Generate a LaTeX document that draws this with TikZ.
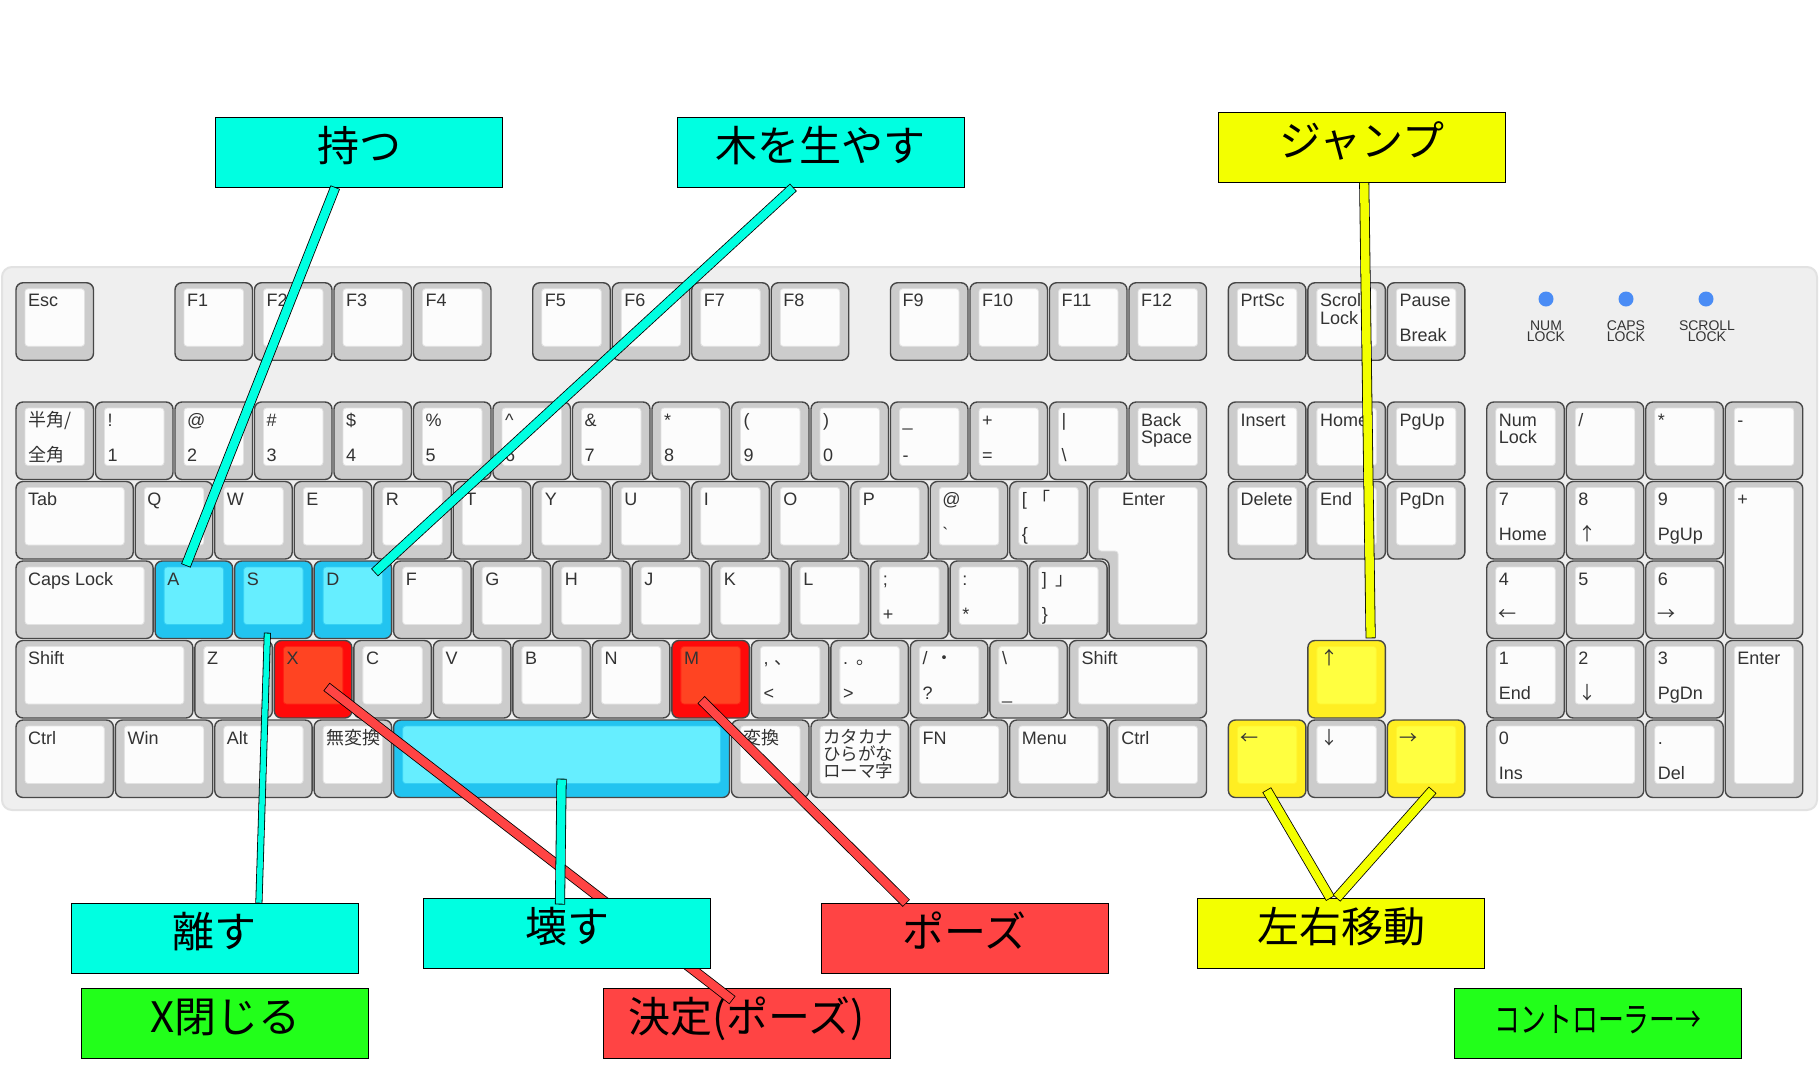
\documentclass[tikz,border=0pt]{standalone}
\usepackage{fontspec}
\usepackage{graphicx}
\setmainfont{Liberation Sans}
\newfontfamily\jpfont{Noto Sans CJK JP}
\usetikzlibrary{calc,positioning}
\definecolor{KeyEdge}{HTML}{474747}
\definecolor{KeySide}{HTML}{CCCCCC}
\definecolor{KeyTop}{HTML}{FCFCFC}
\definecolor{KeyRim}{HTML}{E2E2E2}
\definecolor{KeyText}{HTML}{333333}
\definecolor{BoardFill}{HTML}{EFEFEF}
\definecolor{BoardEdge}{HTML}{E2E2E2}
\definecolor{BlueSide}{HTML}{22C4F0}
\definecolor{BlueTop}{HTML}{66EEFF}
\definecolor{RedSide}{HTML}{FF0A0A}
\definecolor{RedTop}{HTML}{FF4422}
\definecolor{YelSide}{HTML}{FFEE22}
\definecolor{YelTop}{HTML}{FFFF40}
\definecolor{LedBlue}{HTML}{4A8CF5}
\definecolor{TagCyan}{HTML}{00FFE1}
\definecolor{TagRed}{HTML}{FF4444}
\definecolor{TagYellow}{HTML}{F3FF00}
\definecolor{TagGreen}{HTML}{22FF1A}

\tikzset{
  kcap/.style={draw=KeyEdge,line width=1.4pt,rounded corners=7pt,inner sep=0pt,outer sep=0pt},
  kface/.style={draw=#1,line width=0.8pt,rounded corners=3pt,inner sep=0pt,outer sep=0pt},
  plaincap/.style={kcap,fill=KeySide}, plainface/.style={kface=KeyRim,fill=KeyTop},
  bluecap/.style={kcap,fill=BlueSide}, blueface/.style={kface=BlueSide!70!BlueTop,fill=BlueTop},
  redcap/.style={kcap,fill=RedSide}, redface/.style={kface=RedSide!60!RedTop,fill=RedTop},
  yelcap/.style={kcap,fill=YelSide}, yelface/.style={kface=YelSide!60!YelTop,fill=YelTop},
  keytext/.style={anchor=base west,inner sep=0pt,text=KeyText,font=\fontsize{18}{18}\selectfont},
  ledtext/.style={align=center,inner sep=0pt,text=KeyText,font=\fontsize{14}{11}\selectfont},
  tag/.style={draw=black,line width=1.2pt,minimum width=287pt,minimum height=70pt,inner sep=0pt,
    text height=30pt,text depth=12pt,font=\jpfont\fontsize{42}{42}\selectfont},
  band/.style={draw=#1,line width=8.5pt,preaction={draw=black,line width=10.1pt,shorten <=-0.8pt,shorten >=-0.8pt}},
  thinband/.style={draw=#1,line width=5.5pt,preaction={draw=black,line width=7.1pt,shorten <=-0.8pt,shorten >=-0.8pt}},
}

% key: [look]{name}{column}{row}{width}{height}{upper label}{lower label}
\newcommand\kbkey[8][plain]{%
  \node[#1cap,anchor=north west,minimum width={(#5)*79.5pt-2pt},minimum height={(#6)*79.5pt-2pt}]
    (#2) at ({16+(#3)*79.5},{402+(#4)*79.5}) {};
  \node[#1face,anchor=north west,minimum width={(#5)*79.5pt-20pt},minimum height={(#6)*79.5pt-22pt}]
    (#2f) at ($(#2.north west)+(9,6)$) {};
  \node[keytext] (#2t) at ($(#2.north west)+(12,24)$) {#7};
  \node[keytext] (#2b) at ($(#2.north west)+(12,59)$) {#8};
}

\begin{document}
\begin{tikzpicture}[x=1pt,y=-1pt]
  \useasboundingbox (0,0) rectangle (1820,1080);
  \fill[white] (0,0) rectangle (1820,1080);
  \draw[fill=BoardFill,draw=BoardEdge,line width=2pt,rounded corners=10pt] (2,267) rectangle (1817,810);

  \kbkey{kEsc}{0}{-1.5}{1}{1}{Esc}{}
  \foreach \n in {1,...,4} {\kbkey{kF\n}{\n+1}{-1.5}{1}{1}{F\n}{}}
  \foreach \n in {5,...,8} {\kbkey{kF\n}{\n+1.5}{-1.5}{1}{1}{F\n}{}}
  \foreach \n in {9,...,12} {\kbkey{kF\n}{\n+2}{-1.5}{1}{1}{F\n}{}}
  \kbkey{kPrt}{15.25}{-1.5}{1}{1}{PrtSc}{}
  \kbkey{kScr}{16.25}{-1.5}{1}{1}{Scroll}{}
  \node[keytext] (kScrL) at ($(kScr.north west)+(12,41.5)$) {Lock};
  \kbkey{kPau}{17.25}{-1.5}{1}{1}{Pause}{Break}

  \fill[LedBlue] (1546,299) circle (7.5pt);
  \fill[LedBlue] (1626,299) circle (7.5pt);
  \fill[LedBlue] (1706,299) circle (7.5pt);
  \node[ledtext] (ledNum) at (1546,331) {NUM\\LOCK};
  \node[ledtext] (ledCaps) at (1626,331) {CAPS\\LOCK};
  \node[ledtext] (ledScr) at (1707,331) {SCROLL\\LOCK};

  \kbkey{kHan}{0}{0}{1}{1}{\jpfont 半角/}{\jpfont 全角}
  \kbkey{k1}{1}{0}{1}{1}{!}{1}
  \kbkey{k2}{2}{0}{1}{1}{@}{2}
  \kbkey{k3}{3}{0}{1}{1}{\#}{3}
  \kbkey{k4}{4}{0}{1}{1}{\$}{4}
  \kbkey{k5}{5}{0}{1}{1}{\%}{5}
  \kbkey{k6}{6}{0}{1}{1}{\textasciicircum}{6}
  \kbkey{k7}{7}{0}{1}{1}{\&}{7}
  \kbkey{k8}{8}{0}{1}{1}{*}{8}
  \kbkey{k9}{9}{0}{1}{1}{(}{9}
  \kbkey{k0}{10}{0}{1}{1}{)}{0}
  \kbkey{kMinus}{11}{0}{1}{1}{\_}{-}
  \kbkey{kEq}{12}{0}{1}{1}{+}{=}
  \kbkey{kYen}{13}{0}{1}{1}{|}{\textbackslash}
  \kbkey{kBack}{14}{0}{1}{1}{Back}{}
  \node[keytext] (kBackS) at ($(kBack.north west)+(12,41.5)$) {Space};
  \kbkey{kIns}{15.25}{0}{1}{1}{Insert}{}
  \kbkey{kHome}{16.25}{0}{1}{1}{Home}{}
  \kbkey{kPgUp}{17.25}{0}{1}{1}{PgUp}{}
  \kbkey{kNum}{18.5}{0}{1}{1}{Num}{}
  \node[keytext] (kNumL) at ($(kNum.north west)+(12,41.5)$) {Lock};
  \kbkey{kDiv}{19.5}{0}{1}{1}{/}{}
  \kbkey{kMul}{20.5}{0}{1}{1}{*}{}
  \kbkey{kSub}{21.5}{0}{1}{1}{-}{}

  \kbkey{kTab}{0}{1}{1.5}{1}{Tab}{}
  \foreach \lbl [count=\i from 0] in {Q,W,E,R,T,Y,U,I,O,P} {\kbkey{k\lbl}{1.5+\i}{1}{1}{1}{\lbl}{}}
  \kbkey{kAt}{11.5}{1}{1}{1}{@}{\textasciigrave}
  \kbkey{kLbr}{12.5}{1}{1}{1}{[\hspace{6pt}{\jpfont 「}}{\{}
  \draw[plaincap] (1089.25,481.5) -- (1206.5,481.5) -- (1206.5,638.5) -- (1109.1,638.5)
    -- (1109.1,559) -- (1089.25,559) -- cycle;
  \draw[plainface] (1098.25,487.5) -- (1197.5,487.5) -- (1197.5,624.5) -- (1118.1,624.5)
    -- (1118.1,551) -- (1098.25,551) -- cycle;
  \node[keytext] (kEntT) at (1122,505.5) {Enter};
  \kbkey{kDel}{15.25}{1}{1}{1}{Delete}{}
  \kbkey{kEnd}{16.25}{1}{1}{1}{End}{}
  \kbkey{kPgDn}{17.25}{1}{1}{1}{PgDn}{}
  \kbkey{kN7}{18.5}{1}{1}{1}{7}{Home}
  \kbkey{kN8}{19.5}{1}{1}{1}{8}{\jpfont ↑}
  \kbkey{kN9}{20.5}{1}{1}{1}{9}{PgUp}
  \kbkey{kAdd}{21.5}{1}{1}{2}{+}{}

  \kbkey{kCaps}{0}{2}{1.75}{1}{Caps Lock}{}
  \kbkey[blue]{kA}{1.75}{2}{1}{1}{A}{}
  \kbkey[blue]{kS}{2.75}{2}{1}{1}{S}{}
  \kbkey[blue]{kD}{3.75}{2}{1}{1}{D}{}
  \foreach \lbl [count=\i from 0] in {F,G,H,J,K,L} {\kbkey{k\lbl}{4.75+\i}{2}{1}{1}{\lbl}{}}
  \kbkey{kSemi}{10.75}{2}{1}{1}{;}{+}
  \kbkey{kColon}{11.75}{2}{1}{1}{:}{*}
  \kbkey{kRbr}{12.75}{2}{1}{1}{]\hspace{9pt}{\jpfont 」}}{\}}
  \kbkey{kN4}{18.5}{2}{1}{1}{4}{\jpfont ←}
  \kbkey{kN5}{19.5}{2}{1}{1}{5}{}
  \kbkey{kN6}{20.5}{2}{1}{1}{6}{\jpfont →}

  \kbkey{kLShift}{0}{3}{2.25}{1}{Shift}{}
  \kbkey{kZ}{2.25}{3}{1}{1}{Z}{}
  \kbkey[red]{kX}{3.25}{3}{1}{1}{X}{}
  \foreach \lbl [count=\i from 0] in {C,V,B,N} {\kbkey{k\lbl}{4.25+\i}{3}{1}{1}{\lbl}{}}
  \kbkey[red]{kM}{8.25}{3}{1}{1}{M}{}
  \kbkey{kComma}{9.25}{3}{1}{1}{,\hspace{6pt}{\jpfont 、}}{<}
  \kbkey{kDot}{10.25}{3}{1}{1}{.\hspace{8pt}{\jpfont 。}}{>}
  \kbkey{kSlash}{11.25}{3}{1}{1}{/\hspace{8pt}{\jpfont ・}}{?}
  \kbkey{kRo}{12.25}{3}{1}{1}{\textbackslash}{\_}
  \kbkey{kRShift}{13.25}{3}{1.75}{1}{Shift}{}
  \kbkey[yel]{kUp}{16.25}{3}{1}{1}{\jpfont ↑}{}
  \kbkey{kN1}{18.5}{3}{1}{1}{1}{End}
  \kbkey{kN2}{19.5}{3}{1}{1}{2}{\jpfont ↓}
  \kbkey{kN3}{20.5}{3}{1}{1}{3}{PgDn}
  \kbkey{kPEnt}{21.5}{3}{1}{2}{Enter}{}

  \kbkey{kLCtrl}{0}{4}{1.25}{1}{Ctrl}{}
  \kbkey{kWin}{1.25}{4}{1.25}{1}{Win}{}
  \kbkey{kAlt}{2.5}{4}{1.25}{1}{Alt}{}
  \kbkey{kMuh}{3.75}{4}{1}{1}{\jpfont 無変換}{}
  \kbkey[blue]{kSpace}{4.75}{4}{4.25}{1}{}{}
  \kbkey{kHen}{9}{4}{1}{1}{\jpfont 変換}{}
  \kbkey{kKana}{10}{4}{1.25}{1}{}{}
  \node[keytext,font=\jpfont\fontsize{17.5}{17.5}\selectfont] (kKana1) at ($(kKana.north west)+(12,23)$) {カタカナ};
  \node[keytext,font=\jpfont\fontsize{17.5}{17.5}\selectfont] (kKana2) at ($(kKana.north west)+(12,40)$) {ひらがな};
  \node[keytext,font=\jpfont\fontsize{17.5}{17.5}\selectfont] (kKana3) at ($(kKana.north west)+(12,57)$) {ローマ字};
  \kbkey{kFn}{11.25}{4}{1.25}{1}{FN}{}
  \kbkey{kMenu}{12.5}{4}{1.25}{1}{Menu}{}
  \kbkey{kRCtrl}{13.75}{4}{1.25}{1}{Ctrl}{}
  \kbkey[yel]{kLeft}{15.25}{4}{1}{1}{\jpfont ←}{}
  \kbkey{kDown}{16.25}{4}{1}{1}{\jpfont ↓}{}
  \kbkey[yel]{kRight}{17.25}{4}{1}{1}{\jpfont →}{}
  \kbkey{kN0}{18.5}{4}{2}{1}{0}{Ins}
  \kbkey{kNDot}{20.5}{4}{1}{1}{.}{Del}

  \node[tag,fill=TagCyan] (tHold) at (359,152.3) {持つ};
  \node[tag,fill=TagCyan] (tGrow) at (820.8,152.3) {木を生やす};
  \node[tag,fill=TagYellow] (tJump) at (1362.2,147.3) {ジャンプ};
  \node[tag,fill=TagCyan] (tRelease) at (214.9,938.3) {離す};
  \node[tag,fill=TagGreen] (tClose) at (225.1,1023.3) {X閉じる};
  \node[tag,fill=TagRed] (tDecide) at (746.8,1023.3) {決定(ポーズ)};
  \draw[band=TagRed] ($(kX.center)+(14,8)$) -- ($(tDecide.north)+(-15,12)$);
  \node[tag,fill=TagCyan] (tBreak) at (567,933.3) {壊す};
  \node[tag,fill=TagRed] (tPause) at (964.8,938.3) {ポーズ};
  \node[tag,fill=TagYellow] (tMove) at (1341,933.3) {左右移動};
  \node[tag,fill=TagGreen,font=\jpfont\fontsize{35}{35}\selectfont] (tPad) at (1598,1023.3) {\scalebox{0.74}[1]{コントローラー→}};

  \draw[band=TagCyan] ($(tHold.south)+(-24,0)$) -- ($(kA.north west)+(31,4)$);
  \draw[band=TagCyan] ($(tGrow.south)+(-28,0)$) -- ($(kD.north west)+(61,11)$);
  \draw[thinband=TagCyan] ($(tRelease.north)+(44,0)$) -- ($(kS.south)+(-6,-5)$);
  \draw[band=TagCyan] ($(kSpace.south)+(0,-18)$) -- ($(tBreak.north)+(-7,6)$);
  \draw[band=TagRed] ($(kM.center)+(-9,21)$) -- ($(tPause.north)+(-59,0)$);
  \draw[band=TagYellow] ($(tJump.south)+(2,0)$) -- ($(kUp.north)+(24,-3)$);
  \draw[band=TagYellow] ($(tMove.north)+(-11,0)$) -- ($(kLeft.south)+(0,-7)$);
  \draw[band=TagYellow] ($(tMove.north)+(-4,0)$) -- ($(kRight.south)+(6,-7)$);
\end{tikzpicture}
\end{document}
